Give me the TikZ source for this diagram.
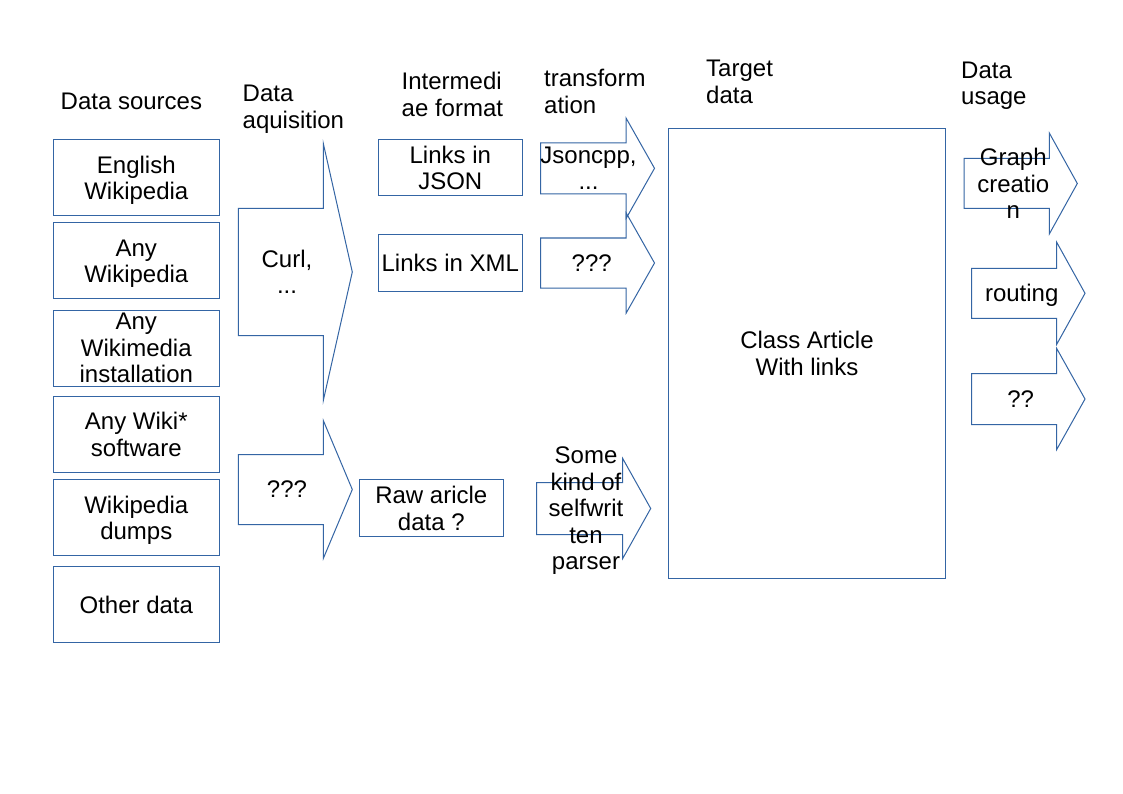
\documentclass[tikz,border=0pt]{standalone}
\usepackage{fontspec}
\setmainfont{Liberation Sans}
\definecolor{lineblue}{HTML}{3465A4}
\tikzset{
  outl/.style={draw=lineblue, line width=1pt, line join=miter},
  box/.style={outl, rectangle, inner sep=0pt},
  lbl/.style={anchor=base, inner sep=0pt, font=\fontsize{24}{26.5}\selectfont},
  hdr/.style={anchor=base west, inner sep=0pt, font=\fontsize{24}{26.5}\selectfont},
}
% name, x, centre y, number of lines, text
\newcommand\ctext[5]{\node[lbl] (#1) at ({#2},{#3-#4*13.25+21.7}) {\begin{tabular}[t]{@{}c@{}}#5\end{tabular}};}
% name, x, first baseline, text
\newcommand\htext[4]{\node[hdr] (#1) at ({#2},{#3}) {\begin{tabular}[t]{@{}l@{}}#4\end{tabular}};}
% left x, notch x, tip x, centre y, body half height, head half height
\newcommand\blockarrow[6]{\draw[outl] ({#1},{#4-#5}) -- ({#2},{#4-#5}) -- ({#2},{#4-#6}) -- ({#3},{#4}) -- ({#2},{#4+#6}) -- ({#2},{#4+#5}) -- ({#1},{#4+#5}) -- cycle;}
\begin{document}
\begin{tikzpicture}[x=1pt,y=-1pt]
\fill[white] (0,0) rectangle (1123,794);
\useasboundingbox (0,0) rectangle (1123,794);

% headers
\htext{h1}{60.5}{110}{Data sources}
\htext{h2}{242.5}{101.7}{Data\\aquisition}
\htext{h3}{401.5}{90}{Intermedi\\ae format}
\htext{h4}{544}{86.7}{transform\\ation}
\htext{h5}{706}{76.7}{Target\\data}
\htext{h6}{961}{78.3}{Data\\usage}

% data sources
\node[box, minimum width=166, minimum height=76] (s1) at (136.3,177.9) {};
\node[box, minimum width=166, minimum height=76] (s2) at (136.3,260.8) {};
\node[box, minimum width=166, minimum height=76] (s3) at (136.3,348) {};
\node[box, minimum width=166, minimum height=76] (s4) at (136.3,434.7) {};
\node[box, minimum width=166, minimum height=76] (s5) at (136.3,517.9) {};
\node[box, minimum width=166, minimum height=76] (s6) at (136.3,604.7) {};
\ctext{s1t}{136.3}{177.9}{2}{English\\Wikipedia}
\ctext{s2t}{136.3}{260.8}{2}{Any\\Wikipedia}
\ctext{s3t}{136.3}{348}{3}{Any\\Wikimedia\\installation}
\ctext{s4t}{136.3}{434.7}{2}{Any Wiki*\\software}
\ctext{s5t}{136.3}{517.9}{2}{Wikipedia\\dumps}
\ctext{s6t}{136.3}{604.7}{1}{Other data}

% acquisition arrows
\blockarrow{238.3}{323.3}{352.3}{272}{63.5}{128.5}
\blockarrow{238.3}{323.3}{352.3}{489.5}{35}{69}
\ctext{a1t}{287}{272}{2}{Curl,\\...}
\ctext{a2t}{287}{489.5}{1}{???}

% intermediate formats
\node[box, minimum width=144, minimum height=56] (i1) at (450.3,168) {};
\node[box, minimum width=144, minimum height=57] (i2) at (450.3,263) {};
\node[box, minimum width=144, minimum height=56.7] (i3) at (431.3,508.3) {};
\ctext{i1t}{450.3}{168}{2}{Links in\\JSON}
\ctext{i2t}{450.3}{263}{1}{Links in XML}
\ctext{i3t}{431.3}{508.3}{2}{Raw aricle\\data ?}

% transformation arrows
\blockarrow{540.7}{626.2}{654.5}{168.3}{25.5}{50}
\blockarrow{540.7}{626.2}{654.5}{263}{25}{50}
\blockarrow{536.7}{622.7}{650.7}{508.5}{26}{50}
\ctext{t1t}{588.5}{168.3}{2}{Jsoncpp,\\...}
\ctext{t2t}{591.7}{263}{1}{???}
\ctext{t3t}{586}{508.5}{5}{Some\\kind of\\selfwrit\\ten\\parser}

% target data
\node[box, minimum width=276.7, minimum height=450] (tg) at (807.3,353.3) {};
\ctext{tgt}{807}{353.3}{2}{Class Article\\With links}

% usage arrows
\blockarrow{964}{1049.3}{1077.3}{183.5}{25}{50.5}
\blockarrow{971.7}{1056.7}{1085}{293.3}{25}{51}
\blockarrow{971.7}{1056.7}{1085}{399}{25.5}{50.5}
\ctext{u1t}{1013.3}{183.7}{3}{Graph\\creatio\\n}
\ctext{u2t}{1021.7}{293.3}{1}{routing}
\ctext{u3t}{1020.7}{399}{1}{??}
\end{tikzpicture}
\end{document}
